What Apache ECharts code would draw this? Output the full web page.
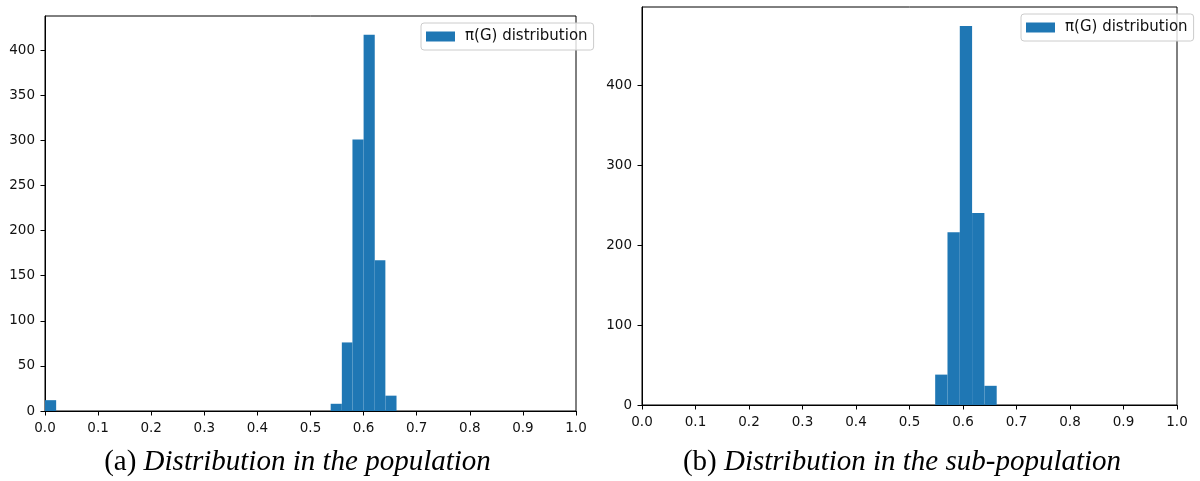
<!DOCTYPE html>
<html>
<head>
<meta charset="utf-8">
<script src="https://cdn.jsdelivr.net/npm/echarts@6/dist/echarts.min.js"></script>
<style>
html,body{margin:0;padding:0;background:#fff;}
#chart{width:1200px;height:481px;}
</style>
</head>
<body>
<div id="chart"></div>
<script>
// ---- data ----
const seriesName = 'π(G) distribution';
// left histogram (population)
const leftBinLo = [0.000, 0.538, 0.559, 0.579, 0.600, 0.621, 0.641];
const leftBinHi = [0.021, 0.559, 0.579, 0.600, 0.621, 0.641, 0.662];
const leftCounts = [12, 8, 76, 301, 417, 167, 17];
// right histogram (sub-population)
const rightBinLo = [0.548, 0.571, 0.594, 0.617, 0.640];
const rightBinHi = [0.571, 0.594, 0.617, 0.640, 0.663];
const rightCounts = [38, 216, 474, 240, 24];
// ticks
const xTicks = [0, 0.1, 0.2, 0.3, 0.4, 0.5, 0.6, 0.7, 0.8, 0.9, 1.0];
const leftYTicks = [0, 50, 100, 150, 200, 250, 300, 350, 400];
const rightYTicks = [0, 100, 200, 300, 400];
const captionA = ['(a)', 'Distribution in the population'];
const captionB = ['(b)', 'Distribution in the sub-population'];

// ---- build ----
const BAR = '#1f77b4';
const FONT = 'DejaVu Sans';
const leftData = leftCounts.map((c, i) => [leftBinLo[i], leftBinHi[i], c]);
const rightData = rightCounts.map((c, i) => [rightBinLo[i], rightBinHi[i], c]);

function renderBar(params, api) {
  const p0 = api.coord([api.value(0), api.value(2)]);
  const p1 = api.coord([api.value(1), 0]);
  return {
    type: 'rect',
    shape: { x: p0[0], y: p0[1], width: p1[0] - p0[0], height: p1[1] - p0[1] },
    style: { fill: BAR }
  };
}

function xAxis(gi) {
  return {
    type: 'value', gridIndex: gi, min: 0, max: 1,
    axisLine: { show: true, onZero: false, lineStyle: { color: '#000', width: 1 } },
    axisTick: { show: true, inside: false, length: 4.5, customValues: xTicks, lineStyle: { color: '#000', width: 1 } },
    axisLabel: { customValues: xTicks, margin: 10, fontFamily: FONT, fontSize: 13.5, color: '#111',
      formatter: v => Number(v).toFixed(1) },
    splitLine: { show: false }
  };
}
function yAxis(gi, max, ticks) {
  return {
    type: 'value', gridIndex: gi, min: 0, max: max,
    axisLine: { show: true, onZero: false, lineStyle: { color: '#000', width: 1 } },
    axisTick: { show: true, inside: false, length: 4.5, customValues: ticks, lineStyle: { color: '#000', width: 1 } },
    axisLabel: { customValues: ticks, margin: 10, fontFamily: FONT, fontSize: 13.5, color: '#111',
      formatter: v => String(v) },
    splitLine: { show: false }
  };
}
function legend(left, top, si) {
  return {
    seriesIndex: si,
    data: [seriesName],
    left: left, top: top, orient: 'vertical',
    icon: 'rect', itemWidth: 29, itemHeight: 10,
    padding: [4, 6, 4, 5],
    backgroundColor: 'rgba(255,255,255,0.8)',
    borderColor: '#cccccc', borderWidth: 1, borderRadius: 3,
    selectedMode: false,
    textStyle: { fontFamily: FONT, fontSize: 15, lineHeight: 19, color: '#111', padding: [0, 0, 0, 5] }
  };
}

const capRich = {
  n: { fontFamily: 'Liberation Serif', fontSize: 29, fill: '#000' },
  i: { fontFamily: 'Liberation Serif', fontStyle: 'italic', fontSize: 29, fill: '#000' }
};

const chart = echarts.init(document.getElementById('chart'), null, { renderer: 'canvas' });
chart.setOption({
  animation: false,
  backgroundColor: '#fff',
  grid: [
    { left: 45, top: 16, width: 531, height: 395, show: true, borderColor: '#000', borderWidth: 1,
      backgroundColor: 'transparent', containLabel: false, outerBoundsMode: 'none' },
    { left: 642, top: 7, width: 535, height: 398, show: true, borderColor: '#000', borderWidth: 1,
      backgroundColor: 'transparent', containLabel: false, outerBoundsMode: 'none' }
  ],
  xAxis: [xAxis(0), xAxis(1)],
  yAxis: [yAxis(0, 417 * 1.05, leftYTicks), yAxis(1, 474 * 1.05, rightYTicks)],
  legend: [legend(421, 23, 0), legend(1021, 14, 1)],
  series: [
    { name: seriesName, type: 'custom', xAxisIndex: 0, yAxisIndex: 0, data: leftData,
      encode: { x: [0, 1], y: 2 }, renderItem: renderBar, itemStyle: { color: BAR }, clip: true },
    { name: seriesName, type: 'custom', xAxisIndex: 1, yAxisIndex: 1, data: rightData,
      encode: { x: [0, 1], y: 2 }, renderItem: renderBar, itemStyle: { color: BAR }, clip: true }
  ],
  graphic: [
    { type: 'text', x: 297.5, y: 462,
      style: { text: '{n|' + captionA[0] + ' }{i|' + captionA[1] + '}', align: 'center', verticalAlign: 'middle', rich: capRich } },
    { type: 'text', x: 902, y: 462,
      style: { text: '{n|' + captionB[0] + ' }{i|' + captionB[1] + '}', align: 'center', verticalAlign: 'middle', rich: capRich } }
  ]
});
</script>
</body>
</html>
